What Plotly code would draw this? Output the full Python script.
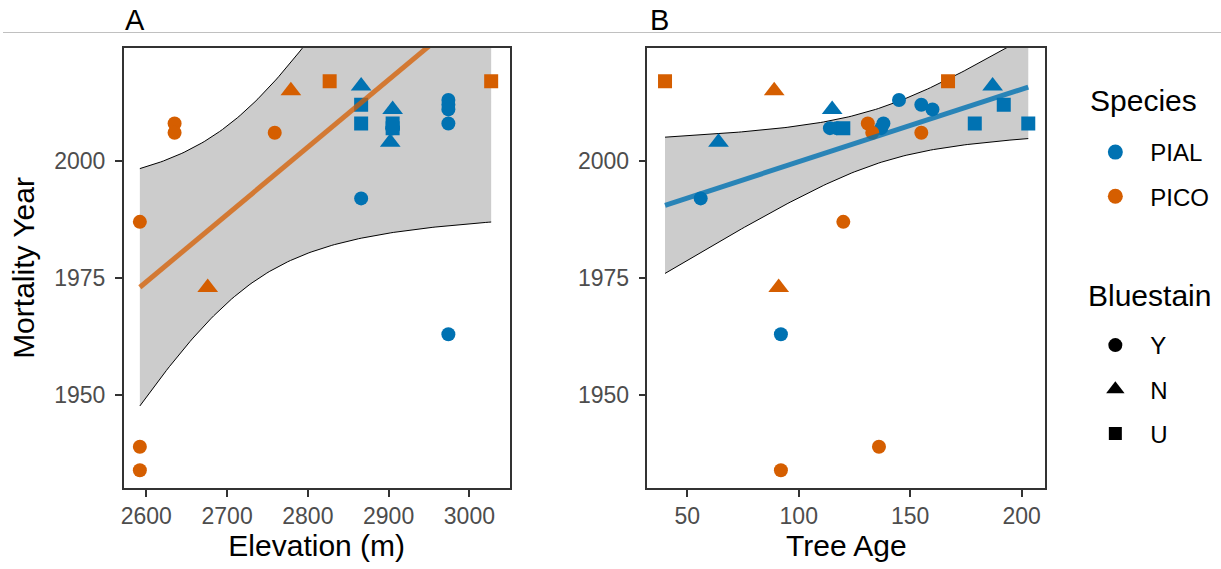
import numpy as np
import plotly.graph_objects as go

# ---------------- data ----------------
species = ["PICO"] * 10 + ["PIAL"] * 16
elevation = [2592, 2592, 2592, 2635, 2635, 2759, 2676, 2779, 2827, 3027,
             2866, 2866, 2866, 2866, 2905, 2902, 2905, 2905, 2905, 2905, 2905,
             2974, 2974, 2974, 2974, 2974]
tree_age = [120, 136, 92, 131, 133, 155, 91, 89, 40, 167,
            187, 192, 179, 56, 115, 64, 120, 203, 114, 117, 137,
            145, 155, 160, 138, 92]
mortality_year = [1987, 1939, 1934, 2008, 2006, 2006, 1973, 2015, 2017, 2017,
                  2016, 2012, 2008, 1992, 2011, 2004, 2007, 2008, 2007, 2007, 2007,
                  2013, 2012, 2011, 2008, 1963]
bluestain = ["Y", "Y", "Y", "Y", "Y", "Y", "N", "N", "U", "U",
             "N", "U", "U", "Y", "N", "N", "U", "U", "Y", "Y", "Y",
             "Y", "Y", "Y", "Y", "Y"]

species_levels = ["PIAL", "PICO"]
stain_levels = ["Y", "N", "U"]
species_colors = {"PIAL": "#0072B2", "PICO": "#D55E00"}
line_colors = {"PIAL": "rgba(0,114,178,0.8)", "PICO": "rgba(213,94,0,0.75)"}
stain_symbols = {"Y": "circle", "N": "triangle-up", "U": "square"}
symbol_sizes = {"Y": 14, "N": 18, "U": 14}
legend_symbol_sizes = {"Y": 14, "N": 16, "U": 13}

x_ticks_a = [2600, 2700, 2800, 2900, 3000]
x_ticks_b = [50, 100, 150, 200]
y_ticks = [1950, 1975, 2000]

# t quantiles (0.975) for lm confidence band
T975 = {8: 2.306004, 14: 2.144787}

sp = np.array(species)
bs = np.array(bluestain)
yr = np.array(mortality_year, dtype=float)
elev = np.array(elevation, dtype=float)
age = np.array(tree_age, dtype=float)

fig = go.Figure()


def lm_band(x, y, xgrid):
    n = len(x)
    b1, b0 = np.polyfit(x, y, 1)
    fit = b0 + b1 * xgrid
    resid = y - (b0 + b1 * x)
    s = np.sqrt(np.sum(resid ** 2) / (n - 2))
    sxx = np.sum((x - x.mean()) ** 2)
    se = s * np.sqrt(1.0 / n + (xgrid - x.mean()) ** 2 / sxx)
    t = T975[n - 2]
    return fit, fit - t * se, fit + t * se


def add_panel(xvals, fit_species, xa, ya):
    mask = sp == fit_species
    xgrid = np.linspace(xvals.min(), xvals.max(), 120)
    fit, lo, hi = lm_band(xvals[mask], yr[mask], xgrid)
    # band
    fig.add_trace(go.Scatter(x=xgrid, y=lo, mode="lines", line=dict(color="black", width=1),
                             showlegend=False, hoverinfo="skip", xaxis=xa, yaxis=ya))
    fig.add_trace(go.Scatter(x=xgrid, y=hi, mode="lines", line=dict(color="black", width=1),
                             fill="tonexty", fillcolor="#CCCCCC",
                             showlegend=False, hoverinfo="skip", xaxis=xa, yaxis=ya))
    # points
    for s in species_levels:
        for b in stain_levels:
            m = (sp == s) & (bs == b)
            if not m.any():
                continue
            fig.add_trace(go.Scatter(
                x=xvals[m], y=yr[m], mode="markers",
                marker=dict(color=species_colors[s], symbol=stain_symbols[b],
                            size=symbol_sizes[b], line=dict(width=0)),
                showlegend=False, xaxis=xa, yaxis=ya, cliponaxis=True))
    # fitted line
    fig.add_trace(go.Scatter(x=xgrid, y=fit, mode="lines",
                             line=dict(color=line_colors[fit_species], width=5),
                             showlegend=False, hoverinfo="skip", xaxis=xa, yaxis=ya))


add_panel(elev, "PICO", "x", "y")
add_panel(age, "PIAL", "x2", "y2")

# legend entries
for s in species_levels:
    fig.add_trace(go.Scatter(x=[None], y=[None], mode="markers", name=s,
                             marker=dict(color=species_colors[s], symbol="circle", size=15),
                             legend="legend", legendgroup="sp_" + s))
for b in stain_levels:
    fig.add_trace(go.Scatter(x=[None], y=[None], mode="markers", name=b,
                             marker=dict(color="black", symbol=stain_symbols[b],
                                         size=legend_symbol_sizes[b]),
                             legend="legend2", legendgroup="bs_" + b))

W, H = 1221, 569
FONT = "Liberation Sans, Arial, sans-serif"

axis_common = dict(showline=True, mirror=True, linecolor="#333333", linewidth=1.5,
                   ticks="outside", ticklen=7, tickwidth=1.5, tickcolor="#333333",
                   showgrid=False, zeroline=False,
                   tickfont=dict(size=23, color="#4D4D4D", family=FONT))

y_range = [1930.2, 2024.1]
fig.update_layout(
    width=W, height=H, margin=dict(l=0, r=0, t=0, b=0),
    paper_bgcolor="white", plot_bgcolor="white",
    font=dict(family=FONT, color="black"),
    xaxis=dict(domain=[121 / W, 508 / W], range=[2572, 3050], tickvals=x_ticks_a,
               title=dict(text="Elevation (m)", font=dict(size=30), standoff=5), anchor="y",
               **axis_common),
    yaxis=dict(domain=[1 - 488 / H, 1 - 48 / H], range=y_range, tickvals=y_ticks,
               ticklabelstandoff=5,
               title=dict(text="Mortality Year", font=dict(size=30), standoff=11), anchor="x",
               **axis_common),
    xaxis2=dict(domain=[646 / W, 1045 / W], range=[32.1, 210.7], tickvals=x_ticks_b,
                title=dict(text="Tree Age", font=dict(size=30), standoff=5), anchor="y2",
                **axis_common),
    yaxis2=dict(domain=[1 - 488 / H, 1 - 48 / H], range=y_range, tickvals=y_ticks,
                ticklabelstandoff=5, anchor="x2", **axis_common),
    legend=dict(x=1080 / W, y=1 - 130 / H, xanchor="left", yanchor="top",
                font=dict(size=24), tracegroupgap=10, itemwidth=60,
                bgcolor="rgba(0,0,0,0)"),
    legend2=dict(x=1080 / W, y=1 - 323 / H, xanchor="left", yanchor="top",
                 font=dict(size=24), tracegroupgap=10, itemwidth=60,
                 bgcolor="rgba(0,0,0,0)"),
    annotations=[
        dict(text="A", x=120 / W, y=1 - 38 / H, xref="paper", yref="paper",
             xanchor="left", yanchor="bottom", showarrow=False, font=dict(size=29)),
        dict(text="B", x=647 / W, y=1 - 38 / H, xref="paper", yref="paper",
             xanchor="left", yanchor="bottom", showarrow=False, font=dict(size=29)),
        dict(text="Species", x=1088 / W, y=1 - 100 / H, xref="paper", yref="paper",
             xanchor="left", yanchor="middle", showarrow=False, font=dict(size=30)),
        dict(text="Bluestain", x=1086 / W, y=1 - 295 / H, xref="paper", yref="paper",
             xanchor="left", yanchor="middle", showarrow=False, font=dict(size=30)),
    ],
    shapes=[dict(type="line", xref="paper", yref="paper", x0=0, x1=1,
                 y0=1 - 32.5 / H, y1=1 - 32.5 / H, line=dict(color="#C0C0C0", width=1))],
)

fig.write_html("out.html")
